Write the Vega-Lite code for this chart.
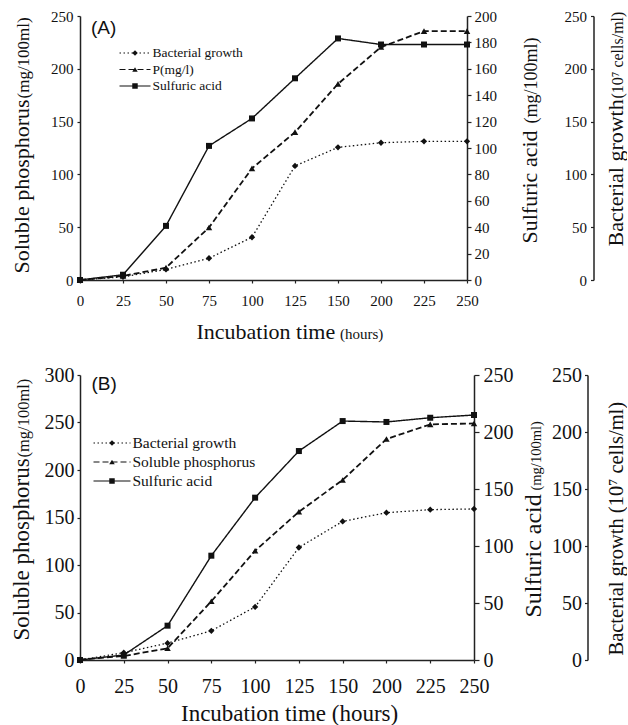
{
  "$schema": "https://vega.github.io/schema/vega-lite/v6.json",
  "padding": {"left": 9, "top": 9, "right": 0, "bottom": 0},
  "autosize": {"type": "pad"},
  "spacing": 23,
  "columns": 1,
  "align": "none",
  "background": "white",
  "datasets": {
    "A": [
      {"t": 0, "s": "Bacterial growth", "v": 0},
      {"t": 25, "s": "Bacterial growth", "v": 3},
      {"t": 50, "s": "Bacterial growth", "v": 10},
      {"t": 75, "s": "Bacterial growth", "v": 20.6},
      {"t": 100, "s": "Bacterial growth", "v": 40.5},
      {"t": 125, "s": "Bacterial growth", "v": 108},
      {"t": 150, "s": "Bacterial growth", "v": 125.6},
      {"t": 200, "s": "Bacterial growth", "v": 130},
      {"t": 225, "s": "Bacterial growth", "v": 131.3},
      {"t": 250, "s": "Bacterial growth", "v": 131.3},
      {"t": 0, "s": "P(mg/l)", "v": 0},
      {"t": 25, "s": "P(mg/l)", "v": 3.8},
      {"t": 50, "s": "P(mg/l)", "v": 11.7},
      {"t": 75, "s": "P(mg/l)", "v": 49.7},
      {"t": 100, "s": "P(mg/l)", "v": 105.7},
      {"t": 125, "s": "P(mg/l)", "v": 140},
      {"t": 150, "s": "P(mg/l)", "v": 185.7},
      {"t": 200, "s": "P(mg/l)", "v": 220.6},
      {"t": 225, "s": "P(mg/l)", "v": 235.7},
      {"t": 250, "s": "P(mg/l)", "v": 235.7},
      {"t": 0, "s": "Sulfuric acid", "v": 0},
      {"t": 25, "s": "Sulfuric acid", "v": 4},
      {"t": 50, "s": "Sulfuric acid", "v": 41},
      {"t": 75, "s": "Sulfuric acid", "v": 101.6},
      {"t": 100, "s": "Sulfuric acid", "v": 122.4},
      {"t": 125, "s": "Sulfuric acid", "v": 152.8},
      {"t": 150, "s": "Sulfuric acid", "v": 183},
      {"t": 200, "s": "Sulfuric acid", "v": 178.4},
      {"t": 225, "s": "Sulfuric acid", "v": 178.4},
      {"t": 250, "s": "Sulfuric acid", "v": 178.4}
    ],
    "B": [
      {"t": 0, "s": "Bacterial growth", "v": 0},
      {"t": 25, "s": "Bacterial growth", "v": 6.4},
      {"t": 50, "s": "Bacterial growth", "v": 14.8},
      {"t": 75, "s": "Bacterial growth", "v": 25.6},
      {"t": 100, "s": "Bacterial growth", "v": 46.6},
      {"t": 125, "s": "Bacterial growth", "v": 98.7},
      {"t": 150, "s": "Bacterial growth", "v": 121.6},
      {"t": 200, "s": "Bacterial growth", "v": 129.2},
      {"t": 225, "s": "Bacterial growth", "v": 131.9},
      {"t": 250, "s": "Bacterial growth", "v": 132.5},
      {"t": 0, "s": "Soluble phosphorus", "v": 0.5},
      {"t": 25, "s": "Soluble phosphorus", "v": 4.2},
      {"t": 50, "s": "Soluble phosphorus", "v": 12.3},
      {"t": 75, "s": "Soluble phosphorus", "v": 61.8},
      {"t": 100, "s": "Soluble phosphorus", "v": 115},
      {"t": 125, "s": "Soluble phosphorus", "v": 156},
      {"t": 150, "s": "Soluble phosphorus", "v": 189.5},
      {"t": 200, "s": "Soluble phosphorus", "v": 232.6},
      {"t": 225, "s": "Soluble phosphorus", "v": 248},
      {"t": 250, "s": "Soluble phosphorus", "v": 249},
      {"t": 0, "s": "Sulfuric acid", "v": 0},
      {"t": 25, "s": "Sulfuric acid", "v": 4.4},
      {"t": 50, "s": "Sulfuric acid", "v": 30.1},
      {"t": 75, "s": "Sulfuric acid", "v": 91.5},
      {"t": 100, "s": "Sulfuric acid", "v": 142.4},
      {"t": 125, "s": "Sulfuric acid", "v": 183.3},
      {"t": 150, "s": "Sulfuric acid", "v": 209.6},
      {"t": 200, "s": "Sulfuric acid", "v": 208.8},
      {"t": 225, "s": "Sulfuric acid", "v": 212.5},
      {"t": 250, "s": "Sulfuric acid", "v": 214.9}
    ]
  },
  "resolve": {
    "scale": {"strokeDash": "independent", "shape": "independent"},
    "legend": {"strokeDash": "independent", "shape": "independent"}
  },
  "concat": [
    {
      "data": {"name": "A"},
      "width": 387,
      "height": 264,
      "title": {"text": "(A)", "orient": "top", "anchor": "start", "frame": "group", "dx": 11, "offset": -29, "font": "Liberation Sans", "fontSize": 19, "fontWeight": "normal", "color": "#111"},
      "resolve": {"scale": {"y": "independent", "x": "independent"}},
      "layer": [
        {
          "transform": [{"filter": "datum.s === 'P(mg/l)'"}],
          "encoding": {
            "x": {"field": "t", "type": "ordinal", "scale": {"type": "point", "padding": 0},
              "axis": {"orient": "bottom", "labelAngle": 0, "labelFont": "Liberation Serif", "titleFont": "Liberation Serif", "labelFontSize": 15, "labelPadding": 10, "tickSize": 3, "title": "Incubation time", "titleFontSize": 22, "titleAlign": "left", "titleBaseline": "alphabetic", "titleX": 116, "titleY": 58}},
            "y": {"field": "v", "type": "quantitative", "scale": {"domain": [0, 250], "nice": false},
              "axis": {"orient": "left", "values": [0, 50, 100, 150, 200, 250], "labelFont": "Liberation Serif", "titleFont": "Liberation Serif", "labelFontSize": 15, "labelPadding": 4, "tickSize": 3, "title": "Soluble phosphorus", "titleFontSize": 22, "titleAngle": 270, "titleAlign": "left", "titleBaseline": "alphabetic", "titleX": -51.5, "titleY": 257}}
          },
          "layer": [
            {"mark": {"type": "line", "color": "#111", "strokeWidth": 1.8},
              "encoding": {"strokeDash": {"field": "s", "type": "nominal",
                "scale": {"domain": ["Bacterial growth", "P(mg/l)", "Sulfuric acid"], "range": [[1.5, 2.5], [6, 3], [1, 0]]},
                "legend": {"orient": "none", "legendX": 38.5, "legendY": 29.5, "title": null, "symbolType": "stroke", "symbolSize": 961, "symbolStrokeWidth": 1.2, "symbolStrokeColor": "#111", "labelFont": "Liberation Serif", "labelFontSize": 13.5, "labelOffset": 1, "clipHeight": 15, "rowPadding": 1.5, "labelColor": "#111", "padding": 0}}}},
            {"mark": {"type": "point", "filled": true, "color": "#111", "opacity": 1, "size": 42},
              "encoding": {"shape": {"field": "s", "type": "nominal",
                "scale": {"domain": ["Bacterial growth", "P(mg/l)", "Sulfuric acid", "-"], "range": ["diamond", "triangle-up", "square", "circle"]},
                "legend": {"orient": "none", "legendX": 48.25, "legendY": 29.5, "values": ["Bacterial growth", "P(mg/l)", "Sulfuric acid"], "title": null, "symbolSize": 30, "symbolStrokeWidth": 0, "symbolFillColor": "#111", "labelExpr": "''", "labelFontSize": 13.5, "clipHeight": 15, "rowPadding": 1.5, "padding": 0}}}}
          ]
        },
        {
          "transform": [{"filter": "datum.s === 'Sulfuric acid'"}],
          "encoding": {
            "x": {"field": "t", "type": "ordinal", "scale": {"type": "point", "padding": 0}, "axis": null},
            "y": {"field": "v", "type": "quantitative", "scale": {"domain": [0, 200], "nice": false},
              "axis": {"orient": "right", "values": [0, 20, 40, 60, 80, 100, 120, 140, 160, 180, 200], "labelFont": "Liberation Serif", "titleFont": "Liberation Serif", "labelFontSize": 15, "labelPadding": 3, "tickSize": 4, "title": "Sulfuric acid", "titleFontSize": 22, "titleAngle": 270, "titleAlign": "left", "titleBaseline": "alphabetic", "titleX": 69, "titleY": 227}}
          },
          "layer": [
            {"mark": {"type": "line", "color": "#111", "strokeWidth": 1.4},
              "encoding": {"strokeDash": {"field": "s", "type": "nominal",
                "scale": {"domain": ["Bacterial growth", "P(mg/l)", "Sulfuric acid"], "range": [[1.5, 2.5], [6, 3], [1, 0]]}}}},
            {"mark": {"type": "point", "filled": true, "color": "#111", "opacity": 1, "size": 36},
              "encoding": {"shape": {"field": "s", "type": "nominal",
                "scale": {"domain": ["Bacterial growth", "P(mg/l)", "Sulfuric acid", "-"], "range": ["diamond", "triangle-up", "square", "circle"]}}}}
          ]
        },
        {
          "transform": [{"filter": "datum.s === 'Bacterial growth'"}],
          "encoding": {
            "x": {"field": "t", "type": "ordinal", "scale": {"type": "point", "padding": 0}, "axis": null},
            "y": {"field": "v", "type": "quantitative", "scale": {"domain": [0, 250], "nice": false},
              "axis": {"orient": "left", "offset": -513.5, "values": [0, 50, 100, 150, 200, 250], "labelFont": "Liberation Serif", "titleFont": "Liberation Serif", "labelFontSize": 15, "labelPadding": 4, "tickSize": 3, "title": "Bacterial growth", "titleFontSize": 22, "titleAngle": 270, "titleAlign": "left", "titleBaseline": "alphabetic", "titleX": 28.5, "titleY": 230}}
          },
          "layer": [
            {"mark": {"type": "line", "color": "#111", "strokeWidth": 1.3},
              "encoding": {"strokeDash": {"field": "s", "type": "nominal",
                "scale": {"domain": ["Bacterial growth", "P(mg/l)", "Sulfuric acid"], "range": [[1.5, 2.5], [6, 3], [1, 0]]}}}},
            {"mark": {"type": "point", "filled": true, "color": "#111", "opacity": 1, "size": 40},
              "encoding": {"shape": {"field": "s", "type": "nominal",
                "scale": {"domain": ["Bacterial growth", "P(mg/l)", "Sulfuric acid", "-"], "range": ["diamond", "triangle-up", "square", "circle"]}}}}
          ]
        },
        {
          "transform": [{"filter": "datum.s === 'P(mg/l)'"}],
          "mark": {"type": "point", "opacity": 0},
          "encoding": {
            "x": {"field": "t", "type": "ordinal", "scale": {"type": "point", "padding": 0},
              "axis": {"orient": "bottom", "labels": false, "ticks": false, "domain": false, "titleFont": "Liberation Serif", "title": "(hours)", "titleFontSize": 15, "titleAlign": "left", "titleBaseline": "alphabetic", "titleX": 259.5, "titleY": 58}},
            "y": {"field": "v", "type": "quantitative", "scale": {"domain": [0, 250], "nice": false},
              "axis": {"orient": "left", "labels": false, "ticks": false, "domain": false, "titleFont": "Liberation Serif", "title": "(mg/100ml)", "titleFontSize": 17, "titleAngle": 270, "titleAlign": "left", "titleBaseline": "alphabetic", "titleX": -51.5, "titleY": 82}}
          }
        },
        {
          "transform": [{"filter": "datum.s === 'Sulfuric acid'"}],
          "mark": {"type": "point", "opacity": 0},
          "encoding": {
            "x": {"field": "t", "type": "ordinal", "scale": {"type": "point", "padding": 0}, "axis": null},
            "y": {"field": "v", "type": "quantitative", "scale": {"domain": [0, 200], "nice": false},
              "axis": {"orient": "right", "labels": false, "ticks": false, "domain": false, "titleFont": "Liberation Serif", "title": "(mg/100ml)", "titleFontSize": 18, "titleAngle": 270, "titleAlign": "left", "titleBaseline": "alphabetic", "titleX": 69, "titleY": 107}}
          }
        },
        {
          "transform": [{"filter": "datum.s === 'Bacterial growth'"}],
          "mark": {"type": "point", "opacity": 0},
          "encoding": {
            "x": {"field": "t", "type": "ordinal", "scale": {"type": "point", "padding": 0}, "axis": null},
            "y": {"field": "v", "type": "quantitative", "scale": {"domain": [0, 250], "nice": false},
              "axis": {"orient": "left", "offset": -513.5, "labels": false, "ticks": false, "domain": false, "titleFont": "Liberation Serif", "title": "(10⁷ cells/ml)", "titleFontSize": 16, "titleAngle": 270, "titleAlign": "left", "titleBaseline": "alphabetic", "titleX": 28.5, "titleY": 82}}
          }
        }
      ]
    },
    {
      "data": {"name": "B"},
      "width": 394,
      "height": 285,
      "title": {"text": "(B)", "orient": "top", "anchor": "start", "frame": "group", "dx": 11.5, "offset": -29, "font": "Liberation Sans", "fontSize": 19, "fontWeight": "normal", "color": "#111"},
      "resolve": {"scale": {"y": "independent"}},
      "encoding": {
        "x": {"field": "t", "type": "ordinal", "scale": {"type": "point", "padding": 0},
          "axis": {"orient": "bottom", "labelAngle": 0, "labelFont": "Liberation Serif", "titleFont": "Liberation Serif", "labelFontSize": 20, "labelPadding": 13, "tickSize": 3, "title": "Incubation time (hours)", "titleFontSize": 23, "titleAlign": "left", "titleBaseline": "alphabetic", "titleX": 100.5, "titleY": 60}}
      },
      "layer": [
        {
          "transform": [{"filter": "datum.s === 'Soluble phosphorus'"}],
          "encoding": {
            "y": {"field": "v", "type": "quantitative", "scale": {"domain": [0, 300], "nice": false},
              "axis": {"orient": "left", "values": [0, 50, 100, 150, 200, 250, 300], "labelFont": "Liberation Serif", "titleFont": "Liberation Serif", "labelFontSize": 20, "labelPadding": 3, "tickSize": 3, "title": "Soluble phosphorus", "titleFontSize": 23, "titleAngle": 270, "titleAlign": "left", "titleBaseline": "alphabetic", "titleX": -52, "titleY": 265}}
          },
          "layer": [
            {"mark": {"type": "line", "color": "#111", "strokeWidth": 1.8},
              "encoding": {"strokeDash": {"field": "s", "type": "nominal",
                "scale": {"domain": ["Bacterial growth", "Soluble phosphorus", "Sulfuric acid"], "range": [[1.5, 2.5], [6, 3], [1, 0]]},
                "legend": {"orient": "none", "legendX": 12.5, "legendY": 60, "title": null, "symbolType": "stroke", "symbolSize": 1369, "symbolStrokeWidth": 1.2, "symbolStrokeColor": "#111", "labelFont": "Liberation Serif", "labelFontSize": 15.5, "labelOffset": 1, "clipHeight": 16, "rowPadding": 2, "labelColor": "#111", "padding": 0}}}},
            {"mark": {"type": "point", "filled": true, "color": "#111", "opacity": 1, "size": 42},
              "encoding": {"shape": {"field": "s", "type": "nominal",
                "scale": {"domain": ["Bacterial growth", "Soluble phosphorus", "Sulfuric acid", "-"], "range": ["diamond", "triangle-up", "square", "circle"]},
                "legend": {"orient": "none", "legendX": 24.25, "legendY": 60, "values": ["Bacterial growth", "Soluble phosphorus", "Sulfuric acid"], "title": null, "symbolSize": 30, "symbolStrokeWidth": 0, "symbolFillColor": "#111", "labelExpr": "''", "labelFontSize": 15.5, "clipHeight": 16, "rowPadding": 2, "padding": 0}}}}
          ]
        },
        {
          "transform": [{"filter": "datum.s === 'Sulfuric acid'"}],
          "encoding": {
            "y": {"field": "v", "type": "quantitative", "scale": {"domain": [0, 250], "nice": false},
              "axis": {"orient": "right", "values": [0, 50, 100, 150, 200, 250], "labelFont": "Liberation Serif", "titleFont": "Liberation Serif", "labelFontSize": 20, "labelPadding": 4, "tickSize": 5, "title": "Sulfuric acid", "titleFontSize": 24, "titleAngle": 270, "titleAlign": "left", "titleBaseline": "alphabetic", "titleX": 66.5, "titleY": 242}}
          },
          "layer": [
            {"mark": {"type": "line", "color": "#111", "strokeWidth": 1.4},
              "encoding": {"strokeDash": {"field": "s", "type": "nominal",
                "scale": {"domain": ["Bacterial growth", "Soluble phosphorus", "Sulfuric acid"], "range": [[1.5, 2.5], [6, 3], [1, 0]]}}}},
            {"mark": {"type": "point", "filled": true, "color": "#111", "opacity": 1, "size": 36},
              "encoding": {"shape": {"field": "s", "type": "nominal",
                "scale": {"domain": ["Bacterial growth", "Soluble phosphorus", "Sulfuric acid", "-"], "range": ["diamond", "triangle-up", "square", "circle"]}}}}
          ]
        },
        {
          "transform": [{"filter": "datum.s === 'Bacterial growth'"}],
          "encoding": {
            "y": {"field": "v", "type": "quantitative", "scale": {"domain": [0, 250], "nice": false},
              "axis": {"orient": "left", "offset": -507.5, "values": [0, 50, 100, 150, 200, 250], "labelFont": "Liberation Serif", "titleFont": "Liberation Serif", "labelFontSize": 20, "labelPadding": 3, "tickSize": 3, "title": "Bacterial growth (10⁷ cells/ml)", "titleFontSize": 20.5, "titleAngle": 270, "titleAlign": "left", "titleBaseline": "alphabetic", "titleX": 34.5, "titleY": 280}}
          },
          "layer": [
            {"mark": {"type": "line", "color": "#111", "strokeWidth": 1.3},
              "encoding": {"strokeDash": {"field": "s", "type": "nominal",
                "scale": {"domain": ["Bacterial growth", "Soluble phosphorus", "Sulfuric acid"], "range": [[1.5, 2.5], [6, 3], [1, 0]]}}}},
            {"mark": {"type": "point", "filled": true, "color": "#111", "opacity": 1, "size": 40},
              "encoding": {"shape": {"field": "s", "type": "nominal",
                "scale": {"domain": ["Bacterial growth", "Soluble phosphorus", "Sulfuric acid", "-"], "range": ["diamond", "triangle-up", "square", "circle"]}}}}
          ]
        },
        {
          "transform": [{"filter": "datum.s === 'Soluble phosphorus'"}],
          "mark": {"type": "point", "opacity": 0},
          "encoding": {
            "y": {"field": "v", "type": "quantitative", "scale": {"domain": [0, 300], "nice": false},
              "axis": {"orient": "left", "labels": false, "ticks": false, "domain": false, "titleFont": "Liberation Serif", "title": "(mg/100ml)", "titleFontSize": 16.5, "titleAngle": 270, "titleAlign": "left", "titleBaseline": "alphabetic", "titleX": -52, "titleY": 82}}
          }
        },
        {
          "transform": [{"filter": "datum.s === 'Sulfuric acid'"}],
          "mark": {"type": "point", "opacity": 0},
          "encoding": {
            "y": {"field": "v", "type": "quantitative", "scale": {"domain": [0, 250], "nice": false},
              "axis": {"orient": "right", "labels": false, "ticks": false, "domain": false, "titleFont": "Liberation Serif", "title": "(mg/100ml)", "titleFontSize": 14.5, "titleAngle": 270, "titleAlign": "left", "titleBaseline": "alphabetic", "titleX": 66.5, "titleY": 115}}
          }
        }
      ]
    }
  ],
  "config": {
    "view": {"stroke": null},
    "font": "Liberation Serif",
    "axis": {"labelFont": "Liberation Serif", "titleFont": "Liberation Serif", "titleFontWeight": "normal", "domainColor": "#222", "tickColor": "#222", "labelColor": "#111", "titleColor": "#111", "grid": false, "domainWidth": 1.5, "tickWidth": 1.2, "labelOverlap": false, "labelFlush": false}
  }
}
